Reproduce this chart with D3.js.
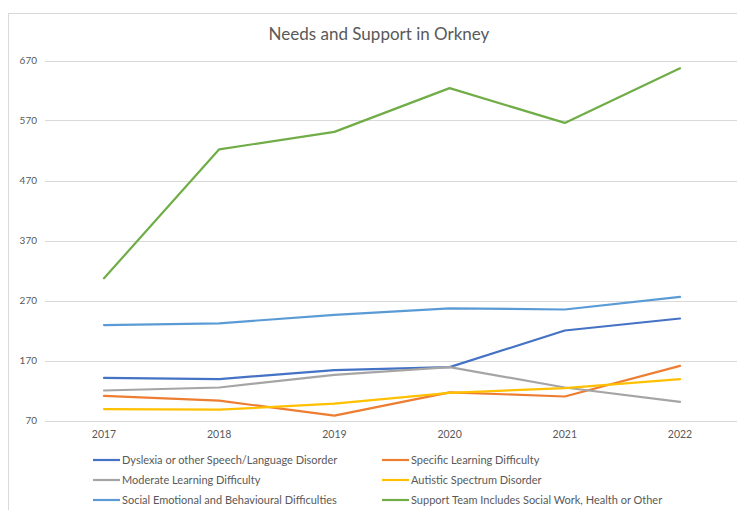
<!DOCTYPE html>
<html><head><meta charset="utf-8">
<script src="https://cdn.jsdelivr.net/npm/d3@7"></script>
<style>
html,body{margin:0;padding:0;background:#fff;}
svg{display:block;font-family:Lato,"Open Sans",sans-serif;}
</style></head>
<body><svg id="c" width="737" height="510"></svg>
<script>
const years = ["2017","2018","2019","2020","2021","2022"];
const yTicks = [70,170,270,370,470,570,670];
const seriesNames = [
  "Dyslexia or other Speech/Language Disorder",
  "Specific Learning Difficulty",
  "Moderate Learning Difficulty",
  "Autistic Spectrum Disorder",
  "Social Emotional and Behavioural Difficulties",
  "Support Team Includes Social Work, Health or Other"
];
const seriesColors = ["#4472C4","#ED7D31","#A5A5A5","#FFC000","#5B9BD5","#70AD47"];
const dyslexia   = [141,139,154,159,220,240];
const specific   = [111,103,78,117,110,161];
const moderate   = [120,125,146,159,125,101];
const autistic   = [89,88,98,116,124,139];
const social     = [229,232,246,257,255,276];
const support    = [307,522,551,624,566,657];
const values = [dyslexia,specific,moderate,autistic,social,support];
const svg = d3.select("#c");

// chart border
svg.append("rect").attr("x",8.5).attr("y",13.5).attr("width",740).attr("height",510)
  .attr("fill","none").attr("stroke","#d9d9d9").attr("stroke-width",1);

const x = d3.scaleBand().domain(years).range([46.4,737.6]).paddingInner(0).paddingOuter(0);
const y = d3.scaleLinear().domain([70,670]).range([420.5,60.5]);

// gridlines
svg.append("g").selectAll("line").data(yTicks).join("line")
  .attr("x1",45).attr("x2",737)
  .attr("y1",d=>Math.round(y(d))+0.5).attr("y2",d=>Math.round(y(d))+0.5)
  .attr("stroke","#d9d9d9").attr("stroke-width",1);

// y axis labels
const yAxis = d3.axisLeft(y).tickValues(yTicks).tickSize(0).tickPadding(0);
const gy = svg.append("g").attr("transform","translate(37,0)").call(yAxis);
gy.select(".domain").remove();
gy.selectAll("text").attr("fill","#595959").style("font-size","10px").style("font-family","Lato,'Open Sans',sans-serif");

// x axis labels
const xAxis = d3.axisBottom(x).tickSize(0).tickPadding(0);
const gx = svg.append("g").attr("transform","translate(0,431)").call(xAxis);
gx.select(".domain").remove();
gx.selectAll("text").attr("fill","#595959").style("font-size","10.5px").style("font-family","Lato,'Open Sans',sans-serif");

// lines
const line = d3.line().x((d,i)=>x(years[i])+x.bandwidth()/2).y(d=>y(d));
values.forEach((vals,k)=>{
  svg.append("path").datum(vals).attr("d",line)
    .attr("fill","none").attr("stroke",seriesColors[k]).attr("stroke-width",2.2)
    .attr("stroke-linejoin","round").attr("stroke-linecap","round");
});

// title
svg.append("text").attr("x",379).attr("y",40).attr("text-anchor","middle")
  .attr("fill","#595959").style("font-size","17px").text("Needs and Support in Orkney");

// legend
const legX = [93,382];
const legY = [460,480,500];
seriesNames.forEach((name,k)=>{
  const col = k%2, row = Math.floor(k/2);
  const g = svg.append("g").attr("transform",`translate(${legX[col]},${legY[row]})`);
  g.append("line").attr("x1",0).attr("x2",27).attr("y1",0).attr("y2",0)
    .attr("stroke",seriesColors[k]).attr("stroke-width",2.2);
  g.append("text").attr("x",29).attr("y",0).attr("dy","0.35em")
    .attr("fill","#595959").style("font-size","11px").text(name);
});
</script></body></html>
